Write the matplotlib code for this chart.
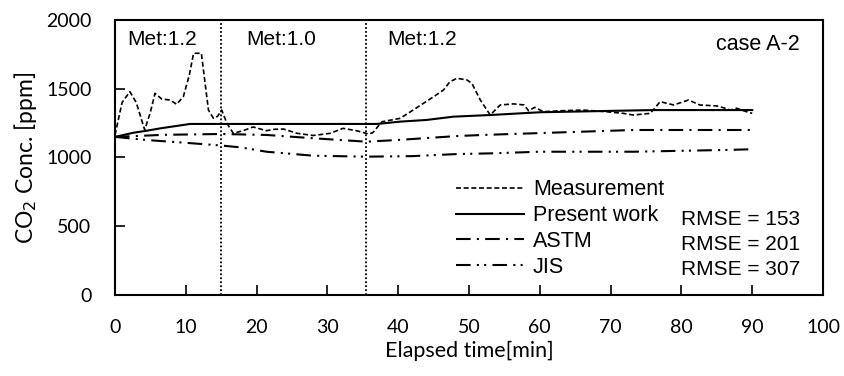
import numpy as np
import matplotlib
matplotlib.use("Agg")
import matplotlib.pyplot as plt

# measured CO2 concentration
meas_t = [0, 1.0, 2.1, 3.0, 4.2, 5.0, 5.65, 6.6, 7.8, 8.7, 9.65, 10.5, 11.1, 12.2, 12.7, 13.2,
          13.9, 14.5, 15.07, 15.8, 16.7, 18.1, 19.5, 21.4, 22.5, 23.8, 25.7, 28.0, 30.4, 32.2,
          34.1, 35.8, 36.4, 37.7, 40.3, 42.1, 45.0, 46.4, 47.3, 48.3, 49.7, 50.4, 51.6, 53.0,
          54.4, 56.3, 57.8, 58.4, 59.3, 60.5, 63.0, 66.1, 69.4, 71.8, 73.2, 75.6, 77.0, 78.9,
          81.0, 82.6, 85.0, 86.2, 86.9, 87.8, 89.2, 90.0]
meas_c = [1164, 1400, 1479, 1400, 1200, 1330, 1467, 1425, 1418, 1387, 1442, 1600, 1758, 1758,
          1550, 1345, 1285, 1300, 1345, 1250, 1176, 1195, 1222, 1195, 1205, 1207, 1176, 1160,
          1176, 1212, 1195, 1171, 1180, 1260, 1285, 1345, 1442, 1491, 1551, 1576, 1564, 1540,
          1418, 1309, 1382, 1390, 1382, 1340, 1365, 1333, 1340, 1345, 1333, 1321, 1309, 1321,
          1406, 1382, 1418, 1382, 1375, 1358, 1345, 1358, 1333, 1321]

# present work
pw_t = [0, 2.6, 4.5, 6.4, 10.6, 37, 40.3, 44, 47.8, 53, 60, 76, 90]
pw_c = [1150, 1180, 1195, 1212, 1244, 1244, 1261, 1273, 1297, 1309, 1329, 1345, 1345]

# ASTM
astm_t = [0, 7, 15, 21.4, 28, 35.5, 39.8, 48.3, 52, 61.4, 73.2, 90]
astm_c = [1150, 1165, 1171, 1164, 1140, 1115, 1127, 1156, 1164, 1180, 1200, 1200]

# JIS
jis_t = [0, 4.5, 9.2, 14.8, 17.7, 21.4, 28, 35.5, 42, 48.3, 53, 60, 73.2, 86.4, 90]
jis_c = [1150, 1127, 1110, 1088, 1074, 1042, 1013, 1006, 1010, 1025, 1030, 1042, 1042, 1055, 1060]

met_changes = [15, 35.5]
met_labels = [(1.8, "Met:1.2"), (18.5, "Met:1.0"), (38.4, "Met:1.2")]
rmse = ["RMSE = 153", "RMSE = 201", "RMSE = 307"]

tick_font = "Lato"
text_font = "Liberation Sans"

fig = plt.figure(figsize=(8.45, 3.76), dpi=100)
ax = fig.add_axes([115 / 845, 1 - 295 / 376, 708 / 845, 275 / 376])

ax.plot(meas_t, meas_c, color="black", lw=1.2, ls=(0, (3, 1.6)), label="Measurement")
ax.plot(pw_t, pw_c, color="black", lw=1.5, ls="-", label="Present work")
ax.plot(astm_t, astm_c, color="black", lw=1.5, ls=(0, (7, 3, 1, 3)), label="ASTM")
ax.plot(jis_t, jis_c, color="black", lw=1.5, ls=(0, (7, 3, 1, 2.5, 1, 3)), label="JIS")

for x in met_changes:
    ax.axvline(x, color="black", lw=1.3, ls=(0, (1, 1.2)))

for x, s in met_labels:
    ax.text(x, 1855, s, fontsize=15, family=text_font, va="center", ha="left")

ax.text(0.967, 0.91, "case A-2", transform=ax.transAxes, fontsize=15.5,
        family=text_font, ha="right", va="center")

leg = ax.legend(loc="upper left", bbox_to_anchor=(0.481, 0.42), frameon=False,
                borderpad=0, borderaxespad=0, handlelength=3.2, handletextpad=0.4,
                labelspacing=0.22, prop={"family": text_font, "size": 15.5})

for i, s in enumerate(rmse):
    ax.text(0.80, [0.276, 0.182, 0.091][i], s, transform=ax.transAxes, fontsize=15,
            family=text_font, va="center", ha="left")

ax.set_xlim(0, 100)
ax.set_ylim(0, 2000)
ax.set_xticks(np.arange(0, 101, 10))
ax.set_yticks(np.arange(0, 2001, 500))
ax.tick_params(direction="in", length=7, width=1.2, pad=17, labelsize=14)
for lab in ax.get_xticklabels() + ax.get_yticklabels():
    lab.set_family(tick_font)
for sp in ax.spines.values():
    sp.set_linewidth(1.5)

ax.set_xlabel("Elapsed time[min]", fontsize=15.5, family=tick_font, labelpad=4)
ax.set_ylabel("CO$_2$ Conc. [ppm]", fontsize=16.5, family=tick_font, labelpad=5)

fig.savefig("out.png", dpi=100)
